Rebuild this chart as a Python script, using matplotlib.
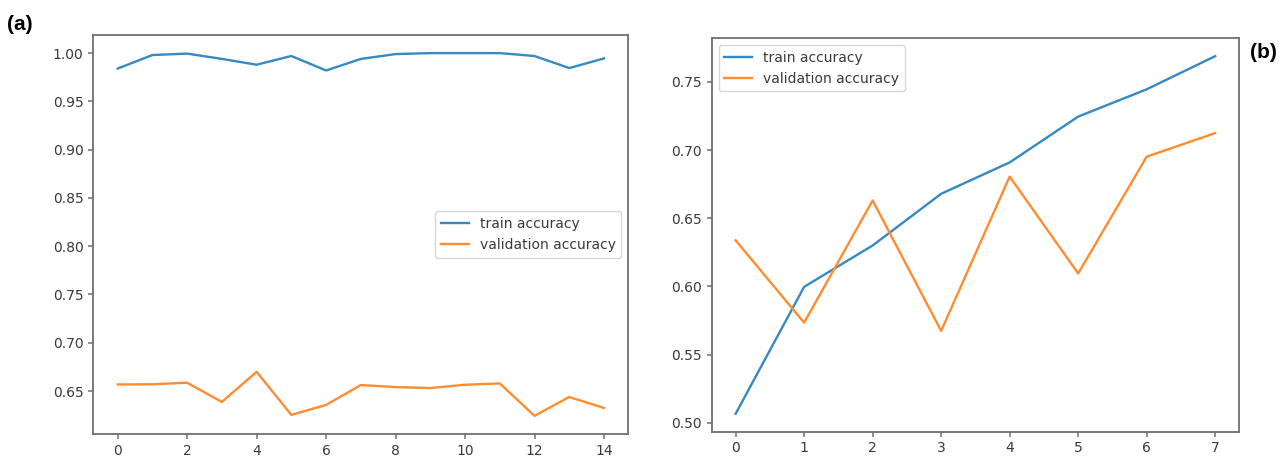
import numpy as np
from matplotlib import pyplot as plt

# (a) 15 epochs
epochs_a = np.arange(15)
train_acc_a = [0.984, 0.998, 0.9995, 0.994, 0.988, 0.997, 0.982, 0.994, 0.999,
               1.000, 1.000, 1.000, 0.997, 0.9845, 0.9945]
val_acc_a = [0.6568, 0.657, 0.6586, 0.6387, 0.6699, 0.6253, 0.6356, 0.6562, 0.6541,
             0.6531, 0.6565, 0.6579, 0.6243, 0.6438, 0.6325]

# (b) 8 epochs
epochs_b = np.arange(8)
train_acc_b = [0.5066, 0.5997, 0.630, 0.6679, 0.6909, 0.7245, 0.7445, 0.7688]
val_acc_b = [0.6338, 0.5734, 0.663, 0.5674, 0.6805, 0.6095, 0.6951, 0.7124]

SPINE_COLOR = "#707070"
TEXT_COLOR = "#3a3a3a"
TRAIN_COLOR = "#3589c4"
VAL_COLOR = "#ff8c2e"


def plot_history(ax, epochs, train, val, legend_loc):
    ax.plot(epochs, train, label="train accuracy", color=TRAIN_COLOR, linewidth=1.7)
    ax.plot(epochs, val, label="validation accuracy", color=VAL_COLOR, linewidth=1.7)
    ax.tick_params(axis="both", labelsize=10, colors=SPINE_COLOR, labelcolor=TEXT_COLOR,
                   width=1.1)
    for spine in ax.spines.values():
        spine.set_color(SPINE_COLOR)
        spine.set_linewidth(1.3)
    leg = ax.legend(loc=legend_loc, fontsize=10, frameon=True)
    for txt in leg.get_texts():
        txt.set_color(TEXT_COLOR)


fig = plt.figure(figsize=(12.82, 4.59), dpi=100)

ax_a = fig.add_axes([0.0728, 0.0545, 0.4173, 0.8693])
plot_history(ax_a, epochs_a, train_acc_a, val_acc_a, "center right")
ax_a.set_xticks(np.arange(0, 15, 2))

ax_b = fig.add_axes([0.5551, 0.0595, 0.4115, 0.8571])
plot_history(ax_b, epochs_b, train_acc_b, val_acc_b, "upper left")
ax_b.set_xticks(epochs_b)

fig.text(7 / 1282, 1 - 24 / 459, "(a)", fontsize=15, fontweight="bold",
         family="Liberation Sans", va="center", ha="left")
fig.text(1250 / 1282, 1 - 52 / 459, "(b)", fontsize=15, fontweight="bold",
         family="Liberation Sans", va="center", ha="left")

plt.savefig("out.png", dpi=100)
plt.close()
